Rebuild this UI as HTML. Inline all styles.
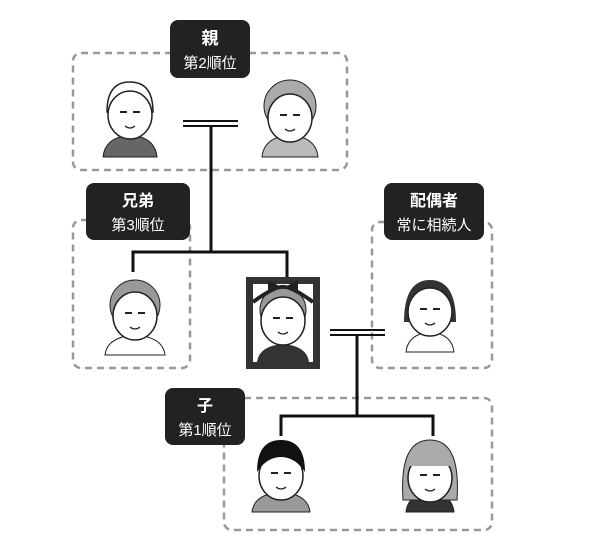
<!DOCTYPE html>
<html><head><meta charset="utf-8"><style>
body{margin:0;background:#fff}
svg text{font-family:"Liberation Sans","Noto Sans CJK JP",sans-serif;fill:#fff;font-weight:bold;text-anchor:middle}
svg text.s{font-weight:normal}
</style></head><body>
<svg width="600" height="548" viewBox="0 0 600 548" xmlns="http://www.w3.org/2000/svg">
<defs>
<g id="face">
  <ellipse cx="0" cy="0" rx="22" ry="24" fill="#fff" stroke="#222" stroke-width="1.5"/>
  <path d="M-10,-3 h7 M3,-3 h7" stroke="#222" stroke-width="2"/>
  <path d="M-5,11 q5,4 10,0" stroke="#222" fill="none" stroke-width="1.3"/>
</g>
</defs>
<g fill="none" stroke="#999" stroke-width="2.5" stroke-dasharray="7,5">
  <rect x="73" y="53" width="274" height="117" rx="8"/>
  <rect x="73" y="220" width="117" height="148" rx="8"/>
  <rect x="372" y="222" width="120" height="146" rx="8"/>
  <rect x="224" y="398" width="268" height="132" rx="8"/>
</g>
<g stroke="#111" stroke-width="3" fill="none">
  <path d="M183,121 H238 M183,126 H238" stroke-width="2"/>
  <path d="M211,126 V252 M133,272 V252 H287 V277"/>
  <path d="M330,330 H385 M330,335 H385" stroke-width="2"/>
  <path d="M357,335 V416 M281,436 V416 H433 V436"/>
</g>
<!-- old man -->
<path d="M103,157 q2,-20 27,-22 q25,2 27,22 z" fill="#666" stroke="#222"/>
<path d="M107,112 q0,-30 23,-30 q23,0 23,30 z" fill="#fff" stroke="#222" stroke-width="1.5"/>
<use href="#face" x="130" y="115"/>
<!-- old woman -->
<path d="M262,157 q2,-20 28,-22 q26,2 28,22 z" fill="#bbb" stroke="#222"/>
<circle cx="290" cy="106" r="26" fill="#aaa" stroke="#222"/>
<use href="#face" x="290" y="118"/>
<!-- sibling -->
<path d="M105,355 q2,-18 30,-20 q28,2 30,20 z" fill="#fff" stroke="#222"/>
<circle cx="135" cy="305" r="25" fill="#999" stroke="#222"/>
<use href="#face" x="135" y="316"/>
<!-- deceased frame -->
<rect x="246" y="277" width="74" height="92" fill="#333"/>
<rect x="253" y="284" width="60" height="78" fill="#fff"/>
<path d="M257,362 q2,-16 26,-18 q24,2 26,18 z" fill="#333"/>
<circle cx="283" cy="310" r="23" fill="#999" stroke="#222"/>
<use href="#face" x="283" y="321"/>
<path d="M253,302 q22,-16 30,-15 q8,-1 30,15" stroke="#222" stroke-width="4" fill="none"/>
<path d="M268,280 l15,8 l15,-8 v11 l-15,-3 l-15,3 z" fill="#222"/>
<!-- spouse -->
<path d="M406,352 q2,-18 24,-20 q22,2 24,20 z" fill="#fff" stroke="#222"/>
<path d="M404,322 q0,-42 26,-42 q26,0 26,42 z" fill="#333"/>
<use href="#face" x="430" y="312"/>
<!-- son -->
<path d="M252,512 q2,-18 29,-20 q27,2 29,20 z" fill="#999" stroke="#222"/>
<use href="#face" x="281" y="476"/>
<path d="M257,472 q0,-32 24,-32 q24,0 24,32 q-10,-15 -24,-15 q-14,0 -24,15z" fill="#111"/>
<!-- daughter -->
<path d="M406,512 q2,-18 24,-20 q22,2 24,20 z" fill="#333" stroke="#222"/>
<path d="M403,500 q-4,-60 27,-60 q31,0 27,60 z" fill="#aaa" stroke="#222"/>
<use href="#face" x="430" y="478"/>
<path d="M409,466 q2,-18 21,-18 q19,0 21,18 z" fill="#aaa"/>
<!-- labels -->
<rect x="170" y="20" width="80" height="58" rx="8" fill="#222"/>
<text x="210" y="44" font-size="17">親</text>
<text class="s" x="210" y="68" font-size="15">第2順位</text>
<rect x="86" y="183" width="104" height="57" rx="8" fill="#222"/>
<text x="138" y="206" font-size="16">兄弟</text>
<text class="s" x="138" y="230" font-size="15">第3順位</text>
<rect x="384" y="183" width="100" height="57" rx="8" fill="#222"/>
<text x="434" y="206" font-size="16">配偶者</text>
<text class="s" x="434" y="230" font-size="15">常に相続人</text>
<rect x="165" y="388" width="80" height="57" rx="8" fill="#222"/>
<text x="205" y="411" font-size="16">子</text>
<text class="s" x="205" y="435" font-size="15">第1順位</text>
</svg>
</body></html>
